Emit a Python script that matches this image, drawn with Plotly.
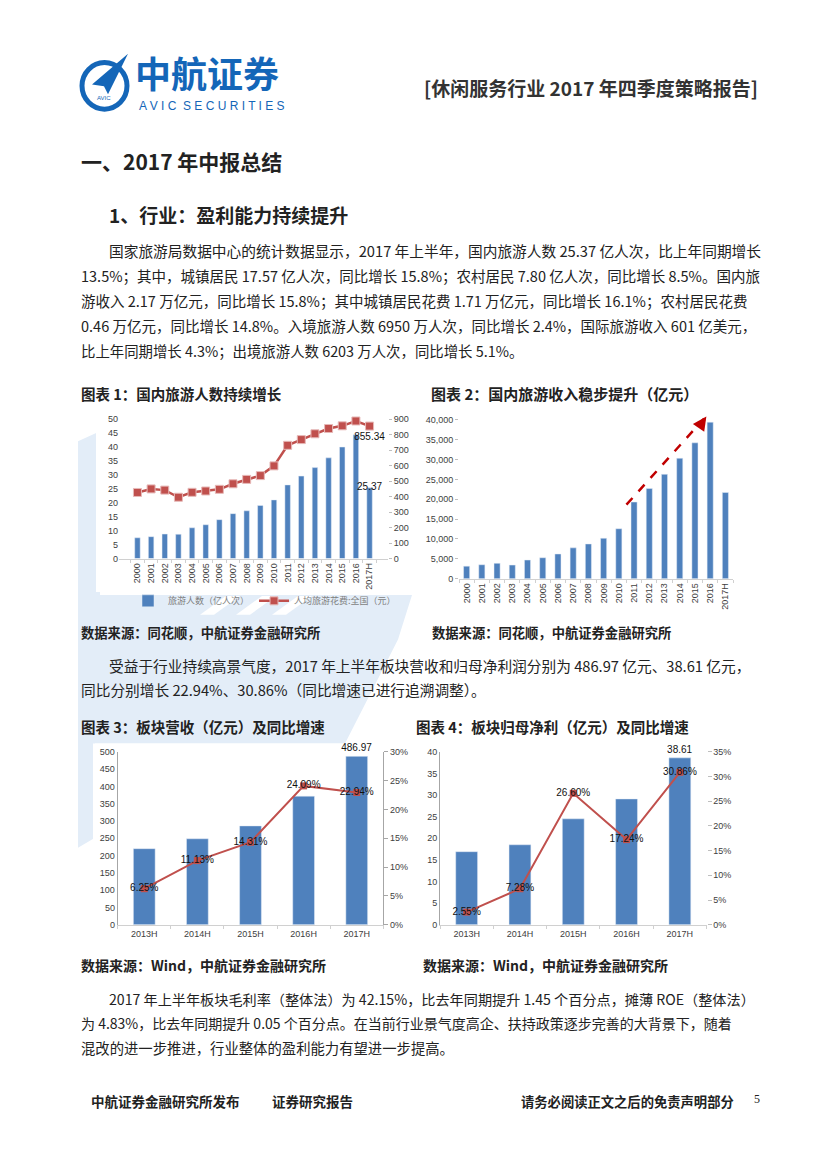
import plotly.graph_objects as go

# page is shown inside the browser body (8px margin), so the figure is sized to fit
OFF = 8
W, H = 827 - 2 * OFF, 1169 - 2 * OFF


def px(x):
    return (x - OFF) / W


def py(y):
    return 1 - (y - OFF) / H


# ---------------- data ----------------
years = ["2000", "2001", "2002", "2003", "2004", "2005", "2006", "2007", "2008",
         "2009", "2010", "2011", "2012", "2013", "2014", "2015", "2016", "2017H"]
tourists = [7.44, 7.84, 8.78, 8.70, 11.02, 12.12, 13.94, 16.10, 17.12,
            19.02, 21.03, 26.41, 29.57, 32.62, 36.11, 40.00, 44.40, 25.37]
spend = [426.6, 449.5, 441.8, 395.7, 427.5, 436.1, 446.9, 482.6, 511.0,
         535.4, 598.2, 731.0, 767.9, 805.5, 839.7, 857.0, 888.2, 855.34]
income = [3175.5, 3522.4, 3878.4, 3442.3, 4710.7, 5285.9, 6229.7, 7770.6, 8749.3,
          10183.7, 12579.8, 19305.4, 22706.2, 26276.1, 30311.9, 34195.1, 39390.0, 21700.0]

periods = ["2013H", "2014H", "2015H", "2016H", "2017H"]
sales = [219.9, 248.6, 285.8, 371.8, 486.97]
sales_growth = [6.25, 11.13, 14.31, 24.09, 22.94]
profit = [16.9, 18.5, 24.5, 29.1, 38.61]
profit_growth = [2.55, 7.28, 26.60, 17.24, 30.86]

BLUE = "#4f81bd"
RED = "#c0504d"
TICKF = dict(family="Liberation Sans", size=9, color="#404040")
LBLF = dict(family="Liberation Sans", size=10, color="#111")
CJK = "Noto Sans CJK SC"

fig = go.Figure()

# ---------------- chart 1 ----------------
fig.add_trace(go.Bar(x=years, y=tourists, name="旅游人数（亿人次）", marker_color=BLUE,
                     width=0.4, xaxis="x", yaxis="y"))
fig.add_trace(go.Scatter(x=[years[-1]], y=[tourists[-1]], mode="text",
                         text=[f"{tourists[-1]:.2f}"], textposition="middle center",
                         textfont=LBLF, showlegend=False, xaxis="x", yaxis="y", cliponaxis=False))
fig.add_trace(go.Scatter(x=years, y=spend, name="人均旅游花费:全国（元）", mode="lines+markers+text",
                         line=dict(color=RED, width=2.5),
                         marker=dict(symbol="square", size=8, color=RED, line=dict(color="#e6b9b8", width=1)),
                         text=[""] * (len(spend) - 1) + [f"{spend[-1]:.2f}"],
                         textposition="bottom center", textfont=LBLF,
                         xaxis="x", yaxis="y2", cliponaxis=False))

# ---------------- chart 2 ----------------
fig.add_trace(go.Bar(x=years, y=income, marker_color=BLUE, width=0.4,
                     xaxis="x2", yaxis="y3", showlegend=False))

# ---------------- chart 3 ----------------
fig.add_trace(go.Bar(x=periods, y=sales, marker_color=BLUE, width=0.41,
                     text=[""] * (len(sales) - 1) + [f"{sales[-1]:.2f}"], textposition="outside",
                     constraintext="none", textfont=LBLF,
                     cliponaxis=False, xaxis="x3", yaxis="y4", showlegend=False))
fig.add_trace(go.Scatter(x=periods, y=sales_growth, mode="lines+markers+text",
                         line=dict(color=RED, width=2),
                         marker=dict(symbol="square", size=7, color=RED),
                         text=[f"{v:.2f}%" for v in sales_growth], textposition="middle center",
                         textfont=LBLF, xaxis="x3", yaxis="y5", showlegend=False, cliponaxis=False))

# ---------------- chart 4 ----------------
fig.add_trace(go.Bar(x=periods, y=profit, marker_color=BLUE, width=0.41,
                     text=[""] * (len(profit) - 1) + [f"{profit[-1]:.2f}"], textposition="outside",
                     constraintext="none", textfont=LBLF,
                     cliponaxis=False, xaxis="x4", yaxis="y6", showlegend=False))
fig.add_trace(go.Scatter(x=periods, y=profit_growth, mode="lines+markers+text",
                         line=dict(color=RED, width=2),
                         marker=dict(symbol="square", size=7, color=RED),
                         text=[f"{v:.2f}%" for v in profit_growth], textposition="middle center",
                         textfont=LBLF, xaxis="x4", yaxis="y7", showlegend=False, cliponaxis=False))

axis_common = dict(showgrid=False, zeroline=False, tickfont=TICKF)
cat_x = dict(type="category", showgrid=False, zeroline=False, tickfont=TICKF,
             showline=True, linecolor="#d0d0d0", ticks="outside", tickson="boundaries",
             ticklen=3, tickcolor="#d0d0d0")

layout = dict(
    width=W, height=H, margin=dict(l=0, r=0, t=0, b=0),
    paper_bgcolor="white", plot_bgcolor="rgba(0,0,0,0)",
    font=dict(family=CJK, color="#222"),
    xaxis=dict(domain=[px(119), px(388)], anchor="y", tickangle=-90, **cat_x),
    yaxis=dict(domain=[py(558.3), py(417.7)], range=[0, 50], dtick=5, anchor="x", **axis_common),
    yaxis2=dict(overlaying="y", side="right", range=[0, 900], dtick=100, anchor="x",
                ticks="outside", ticklen=3, tickcolor="#bfbfbf", **axis_common),
    xaxis2=dict(domain=[px(459), px(733)], anchor="y3", tickangle=-90, **cat_x),
    yaxis3=dict(domain=[py(578.7), py(414.3)], range=[0, 41000],
                tickvals=[0, 5000, 10000, 15000, 20000, 25000, 30000, 35000, 40000],
                tickformat=",", anchor="x2", ticks="outside", ticklen=3, tickcolor="#bfbfbf",
                **axis_common),
    xaxis3=dict(domain=[px(117.7), px(383.3)], anchor="y4", **cat_x),
    yaxis4=dict(domain=[py(927.7), py(753.3)], range=[0, 500], dtick=50, anchor="x3",
                showline=True, linecolor="#a6a6a6", **axis_common),
    yaxis5=dict(overlaying="y4", side="right", range=[0, 30], dtick=5, ticksuffix="%",
                anchor="x3", showline=True, linecolor="#a6a6a6", ticks="outside", ticklen=4,
                tickcolor="#a6a6a6", **axis_common),
    xaxis4=dict(domain=[px(440), px(706.5)], anchor="y6", **cat_x),
    yaxis6=dict(domain=[py(927.7), py(753.3)], range=[0, 40], dtick=5, anchor="x4",
                showline=True, linecolor="#a6a6a6", **axis_common),
    yaxis7=dict(overlaying="y6", side="right", range=[0, 35], dtick=5, ticksuffix="%",
                anchor="x4", ticks="outside", ticklen=4, tickcolor="#bfbfbf", **axis_common),
    legend=dict(x=px(128), y=py(601), xanchor="left", yanchor="middle", orientation="h",
                font=dict(family=CJK, size=9, color="#7f7f7f"), bgcolor="rgba(0,0,0,0)",
                itemwidth=30, tracegroupgap=0),
    showlegend=True,
)

# ---------------- shapes (watermark, chart backgrounds, arrow, logo) ----------------
WM = "#e3edf8"


def poly(points, color, layer="below"):
    d = "M " + " L ".join(f"{px(x)},{py(y)}" for x, y in points) + " Z"
    return dict(type="path", xref="paper", yref="paper", layer=layer, fillcolor=color,
                line=dict(width=0), path=d)


shapes = [
    poly([(78, 440), (100, 430), (100, 595), (412, 595), (398, 640), (345, 745),
          (95, 745), (95, 840), (78, 850)], WM),
    # white stripes of the watermark tail
    poly([(200, 615), (214, 615), (240, 596), (226, 596)], "white"),
    poly([(236, 615), (250, 615), (276, 596), (262, 596)], "white"),
    poly([(272, 615), (286, 615), (312, 596), (298, 596)], "white"),
    # white chart backgrounds
    dict(type="rect", xref="paper", yref="paper", layer="below", fillcolor="white", line=dict(width=0),
         x0=px(96), x1=px(415), y0=py(592), y1=py(408)),
    dict(type="rect", xref="paper", yref="paper", layer="below", fillcolor="white", line=dict(width=0),
         x0=px(420), x1=px(750), y0=py(612), y1=py(408)),
    dict(type="rect", xref="paper", yref="paper", layer="below", fillcolor="white", line=dict(width=0),
         x0=px(93), x1=px(412), y0=py(942), y1=py(745)),
    dict(type="rect", xref="paper", yref="paper", layer="below", fillcolor="white", line=dict(width=0),
         x0=px(420), x1=px(745), y0=py(942), y1=py(745)),
    # dashed trend arrow in chart 2
    dict(type="line", xref="x2", yref="y3", x0=10.5, y0=18630, x1=15.6, y1=40300,
         line=dict(color="#c00000", width=2.5, dash="dash")),
    # logo ring
    dict(type="circle", xref="paper", yref="paper", x0=px(82), x1=px(127), y0=py(105), y1=py(58),
         line=dict(color="#1466b8", width=5), fillcolor="white"),
    poly([(92, 80), (128, 49), (108, 90), (104, 82)], "#1466b8", layer="above"),
]
layout["shapes"] = shapes


def txt(x, y, s, size=14.5, bold=False, anchor="left", color="#222", family=CJK):
    return dict(xref="paper", yref="paper", x=px(x), y=py(y), xanchor=anchor, yanchor="middle",
                text=f"<b>{s}</b>" if bold else s, showarrow=False,
                font=dict(family=family, size=size, color=color))


ann = [
    # arrow head chart 2
    dict(xref="x2", yref="y3", axref="x2", ayref="y3", x=15.75, y=40800, ax=15.3, ay=38300,
         showarrow=True, arrowhead=2, arrowsize=1.1, arrowwidth=2.5, arrowcolor="#c00000", text=""),
    # header
    txt(133, 68, "中航证券", size=36, bold=True, color="#1466b8"),
    txt(137, 102, "A V I C  S E C U R I T I E S", size=12, color="#1466b8", family="Liberation Sans"),
    txt(104, 94, "AVIC", size=6, color="#1466b8", anchor="center", family="Liberation Sans"),
    txt(760, 83, "[休闲服务行业 2017 年四季度策略报告]", size=19, bold=True, anchor="right", color="#333"),
    # headings
    txt(79, 157, "一、2017 年中报总结", size=21, bold=True),
    txt(107, 211, "1、行业：盈利能力持续提升", size=19, bold=True),
    # paragraph 1
    txt(107, 248, "国家旅游局数据中心的统计数据显示，2017 年上半年，国内旅游人数 25.37 亿人次，比上年同期增长", size=14.7),
    txt(79, 273, "13.5%；其中，城镇居民 17.57 亿人次，同比增长 15.8%；农村居民 7.80 亿人次，同比增长 8.5%。国内旅", size=14.5),
    txt(79, 298, "游收入 2.17 万亿元，同比增长 15.8%；其中城镇居民花费 1.71 万亿元，同比增长 16.1%；农村居民花费", size=14.5),
    txt(79, 323, "0.46 万亿元，同比增长 14.8%。入境旅游人数 6950 万人次，同比增长 2.4%，国际旅游收入 601 亿美元，", size=14.5),
    txt(79, 348, "比上年同期增长 4.3%；出境旅游人数 6203 万人次，同比增长 5.1%。", size=14.4),
    # captions 1/2
    txt(79, 392, "图表 1：国内旅游人数持续增长", bold=True),
    txt(429, 392, "图表 2：国内旅游收入稳步提升（亿元）", size=15, bold=True),
    txt(79, 633, "数据来源：同花顺，中航证券金融研究所", size=13.3, bold=True),
    txt(430, 633, "数据来源：同花顺，中航证券金融研究所", size=13.3, bold=True),
    # paragraph 2
    txt(107, 666, "受益于行业持续高景气度，2017 年上半年板块营收和归母净利润分别为 486.97 亿元、38.61 亿元，", size=14.7),
    txt(79, 690, "同比分别增长 22.94%、30.86%（同比增速已进行追溯调整）。", size=14.7),
    # captions 3/4
    txt(79, 728, "图表 3：板块营收（亿元）及同比增速", bold=True),
    txt(414, 728, "图表 4：板块归母净利（亿元）及同比增速", bold=True),
    txt(79, 968, "数据来源：Wind，中航证券金融研究所", size=14, bold=True),
    txt(421, 968, "数据来源：Wind，中航证券金融研究所", size=14, bold=True),
    # paragraph 3
    txt(107, 1003, "2017 年上半年板块毛利率（整体法）为 42.15%，比去年同期提升 1.45 个百分点，摊薄 ROE（整体法）", size=14.15),
    txt(79, 1027, "为 4.83%，比去年同期提升 0.05 个百分点。在当前行业景气度高企、扶持政策逐步完善的大背景下，随着", size=14),
    txt(79, 1052, "混改的进一步推进，行业整体的盈利能力有望进一步提高。", size=14.35),
    # footer
    txt(89, 1106, "中航证券金融研究所发布", size=13.5, bold=True),
    txt(270, 1106, "证券研究报告", size=13.5, bold=True),
    txt(519, 1106, "请务必阅读正文之后的免责声明部分", size=13.3, bold=True),
    txt(752, 1104, "5", size=12, family="Liberation Serif"),
]
layout["annotations"] = ann

fig.update_layout(**layout)
fig.write_html("out.html")
